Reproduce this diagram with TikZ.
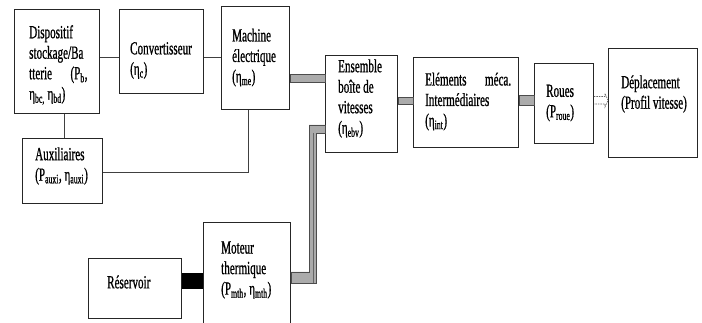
\documentclass[tikz,border=0pt]{standalone}
\usepackage{fontspec}
\setmainfont{Liberation Serif}[FakeStretch=0.6,FakeBold=0.8]
\begin{document}
\begin{tikzpicture}[x=1pt,y=-1pt,
  box/.style={draw=black!85, line width=0.9pt, fill=white, inner sep=0pt, anchor=north west},
  txt/.style={anchor=west, align=left, inner sep=0pt, font=\fontsize{18.5}{20.5}\selectfont},
  wire/.style={draw=black!75, line width=0.9pt},
  shaft/.style={fill=black!33, draw=black!70, line width=0.6pt},
  fuel/.style={fill=black},
  flow/.style={draw=black!60, line width=0.6pt, dashed, dash pattern=on 1.5pt off 1pt}]
\useasboundingbox (0,0) rectangle (702,323);
\clip (0,0) rectangle (702,323);
% boxes
\node[box, minimum width=85pt, minimum height=104pt] (disp) at (14,9) {};
\node[box, minimum width=84pt, minimum height=84pt] (conv) at (119,9) {};
\node[box, minimum width=68pt, minimum height=103pt] (mach) at (221,6) {};
\node[box, minimum width=80pt, minimum height=65pt] (aux) at (22,138) {};
\node[box, minimum width=72pt, minimum height=97pt] (ebv) at (325,55) {};
\node[box, minimum width=105pt, minimum height=90pt] (elem) at (413,57) {};
\node[box, minimum width=59pt, minimum height=80pt] (roue) at (534,63) {};
\node[box, minimum width=89pt, minimum height=109pt] (depl) at (608,48) {};
\node[box, minimum width=93pt, minimum height=60pt] (res) at (88,258) {};
\node[box, minimum width=87pt, minimum height=110pt] (mot) at (203,222) {};
% helper coordinates
\coordinate (y57) at (0,57);
\coordinate (x64) at (64,0);
\coordinate (y172) at (0,172);
\coordinate (x248) at (248,0);
\coordinate (y74) at (0,74);
\coordinate (y82) at (0,82);
\coordinate (y97) at (0,97);
\coordinate (y104) at (0,104);
\coordinate (y95) at (0,95);
\coordinate (y105) at (0,105);
\coordinate (y273) at (0,273);
\coordinate (y289) at (0,289);
\coordinate (ja) at (309,272);
\coordinate (jb) at (309,125);
\coordinate (jc) at (316,133);
\coordinate (jd) at (316,283);
\coordinate (xm) at (313,0);
% thin electrical links
\draw[wire] (disp.east |- y57) -- (conv.west |- y57);
\draw[wire] (conv.east |- y57) -- (mach.west |- y57);
\draw[wire] (disp.south -| x64) -- (aux.north -| x64);
\draw[wire] (aux.east |- y172) -| (mach.south -| x248);
% mechanical shafts
\draw[shaft] (mach.east |- y74) rectangle (ebv.west |- y82);
\draw[shaft] (ebv.east |- y97) rectangle (elem.west |- y104);
\draw[shaft] (elem.east |- y95) rectangle (roue.west |- y105);
\draw[shaft] (mot.east |- ja) -- (ja) -- (jb) -- (ebv.west |- jb) -- (ebv.west |- jc) -- (jc) -- (jd) -- (mot.east |- jd) -- cycle;
\draw[draw=black!60, line width=0.5pt] (xm |- jc) -- (xm |- jd);
% fuel link
\fill[fuel] (res.east |- y273) rectangle (mot.west |- y289);
% dashed hollow arrow
\coordinate (a1) at (605,96.5);
\coordinate (a2) at (605,104);
\coordinate (ah) at (0,100.25);
\draw[flow] (roue.east |- a1) -- (a1) -- (605,93.5) -- (depl.west |- ah) -- (605,107) -- (a2) -- (roue.east |- a2);
% texts
\node[txt] (disp-t) at (29,65) {Dispositif\\stockage/Ba\\tterie\quad (P\textsubscript{b},\\η\textsubscript{bc,} η\textsubscript{bd})};
\node[txt] (conv-t) at (130,60.5) {Convertisseur\\(η\textsubscript{c})};
\node[txt] (mach-t) at (232,57.5) {Machine\\électrique\\(η\textsubscript{me})};
\node[txt] (aux-t) at (35,166) {Auxiliaires\\(P\textsubscript{auxi}, η\textsubscript{auxi})};
\node[txt] (ebv-t) at (338,98.5) {Ensemble\\boîte de\\vitesses\\(η\textsubscript{ebv})};
\node[txt] (elem-t) at (425,101.5) {Eléments\quad méca.\\Intermédiaires\\(η\textsubscript{int})};
\node[txt] (roue-t) at (546,103) {Roues\\(P\textsubscript{roue})};
\node[txt] (depl-t) at (621,94) {Déplacement\\(Profil vitesse)};
\node[txt] (res-t) at (107,282) {Réservoir};
\node[txt] (mot-t) at (221,270) {Moteur\\thermique\\(P\textsubscript{mth}, η\textsubscript{mth})};
\end{tikzpicture}
\end{document}
